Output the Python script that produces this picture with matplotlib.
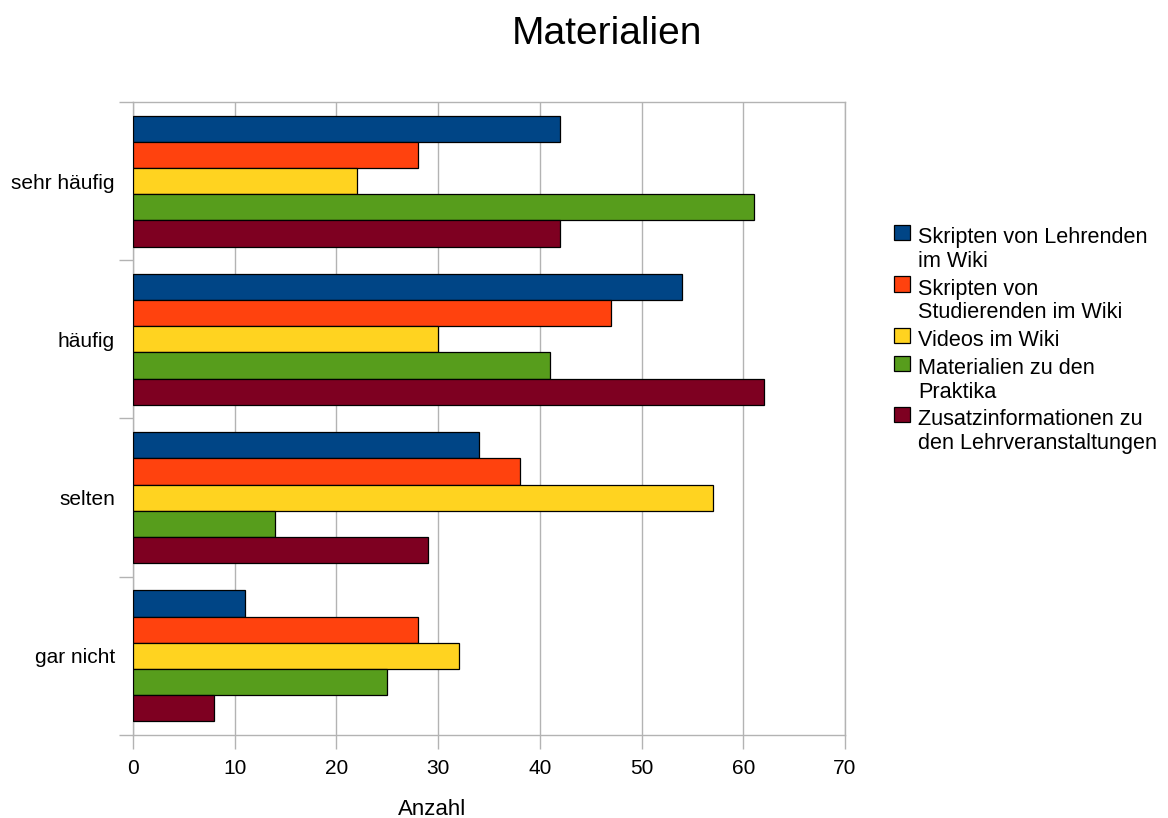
import numpy as np
import matplotlib
matplotlib.use("Agg")
import matplotlib.pyplot as plt
from matplotlib.patches import Rectangle

plt.rcParams['font.family'] = ['Liberation Sans', 'DejaVu Sans']

categories = ["sehr häufig", "häufig", "selten", "gar nicht"]
series_names = [
    "Skripten von Lehrenden\nim Wiki",
    "Skripten von\nStudierenden im Wiki",
    "Videos im Wiki",
    "Materialien zu den\nPraktika",
    "Zusatzinformationen zu\nden Lehrveranstaltungen",
]
lehrende = [42, 54, 34, 11]
studierende = [28, 47, 38, 28]
videos = [22, 30, 57, 32]
praktika = [61, 41, 14, 25]
zusatz = [42, 62, 29, 8]
values = [lehrende, studierende, videos, praktika, zusatz]
colors = ["#004586", "#ff420e", "#ffd320", "#579d1c", "#7e0021"]
x_ticks = [0, 10, 20, 30, 40, 50, 60, 70]

W, H = 1168, 818
fig = plt.figure(figsize=(W / 100, H / 100), dpi=100)
ax = fig.add_axes([0.1139, 0.1015, 0.6096, 0.7738])

n = len(values)
group_width = 0.827
bar_h = group_width / n
centers = np.arange(len(categories))
for i, (vals, col) in enumerate(zip(values, colors)):
    offs = -group_width / 2 + bar_h * (i + 0.5)
    ax.barh(centers + offs, vals, height=bar_h, color=col,
            edgecolor="black", linewidth=0.9, zorder=3)

ax.set_xlim(0, 70)
ax.set_ylim(len(categories) - 0.5, -0.5)
ax.set_xticks(x_ticks)
ax.set_xticklabels([str(t) for t in x_ticks], fontsize=15)
ax.grid(axis="x", color="#b3b3b3", linewidth=1, zorder=0)

# category boundaries carry the tick marks, labels sit at group centres
ax.set_yticks(np.arange(-0.5, len(categories), 1.0))
ax.set_yticklabels([])
ax.set_yticks(centers, minor=True)
ax.set_yticklabels(categories, minor=True, fontsize=15)
ax.tick_params(axis="y", which="minor", length=0, pad=13)
ax.tick_params(axis="y", which="major", length=10, color="#b3b3b3", width=1)
ax.tick_params(axis="x", length=10, color="#b3b3b3", width=1, pad=7)

for s in ax.spines.values():
    s.set_color("#b3b3b3")
    s.set_linewidth(1)

fig.text(0.52, 0.958, "Materialien", ha="center", va="center", fontsize=28)
fig.text(0.370, 0.004, "Anzahl", ha="center", va="baseline", fontsize=16)

# legend: swatch beside the first line of each (possibly wrapped) label
line_step = 24      # px between wrapped lines
entry_step = 27.5   # px from last line of one entry to first line of next
baseline = 243.0
for name, col in zip(series_names, colors):
    fig.add_artist(Rectangle(((894) / W, 1 - (baseline - 3) / H), 16 / W, 15 / H,
                             transform=fig.transFigure, facecolor=col,
                             edgecolor="black", linewidth=0.9))
    lines = name.split("\n")
    for j, line in enumerate(lines):
        fig.text(918 / W, 1 - (baseline + j * line_step) / H, line,
                 ha="left", va="baseline", fontsize=15.6)
    baseline += (len(lines) - 1) * line_step + entry_step

fig.savefig("out.png", dpi=100)
